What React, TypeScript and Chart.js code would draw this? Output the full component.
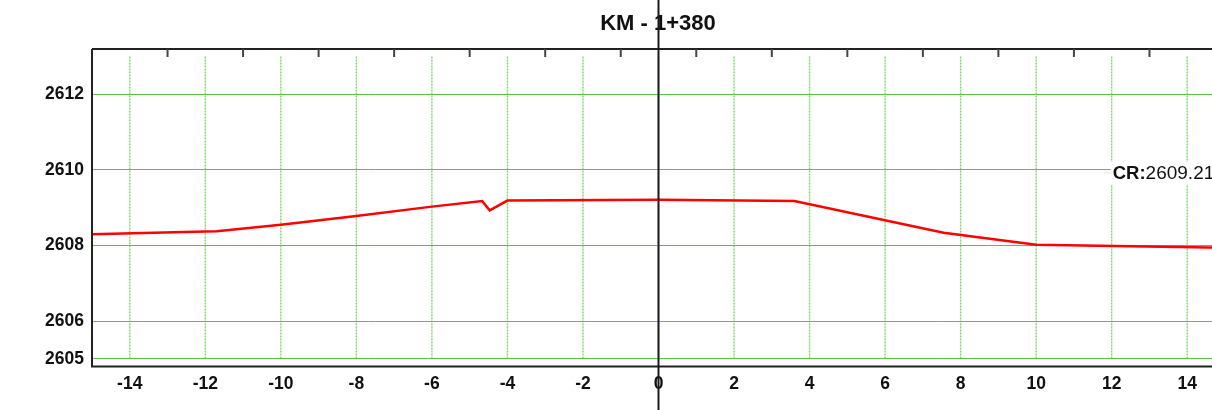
import { useEffect, useRef } from 'react';
import { Chart, registerables } from 'chart.js';

Chart.register(...registerables);

// ---- data ----
const TITLE = 'KM - 1+380';
const OFFSETS = [-15, -12, -11.7, -10, -8, -6, -4.67, -4.47, -4.0, 0, 3.6, 7.55, 10, 15];
const ELEVATIONS = [2608.3, 2608.37, 2608.38, 2608.55, 2608.78, 2609.03, 2609.18, 2608.93, 2609.19, 2609.21, 2609.18, 2608.34, 2608.02, 2607.94];
const X_TICKS = [-14, -12, -10, -8, -6, -4, -2, 0, 2, 4, 6, 8, 10, 12, 14];
const TOP_MINOR_TICKS = [-13, -11, -9, -7, -5, -3, -1, 1, 3, 5, 7, 9, 11, 13, 15];
const Y_TICKS = [2605, 2606, 2608, 2610, 2612];
const X_RANGE = [-15, 15];
const Y_RANGE = [2604.8, 2613.2];
const GRID_Y_SPAN = [2605, 2613];
const CR_NAME = 'CR:';
const CR_VALUE = '2609.21';
const CR_ANCHOR = [12, 2609.9];

const FONT = '"Liberation Sans", Arial, Helvetica, sans-serif';

const decorPlugin = {
  id: 'profileDecor',
  beforeDatasetsDraw(chart: any) {
    const { ctx, scales } = chart;
    const x = scales.x;
    const y = scales.y;
    const yt = y.getPixelForValue(GRID_Y_SPAN[1]);
    const yb = y.getPixelForValue(GRID_Y_SPAN[0]);
    ctx.save();
    ctx.strokeStyle = 'rgba(80,205,55,0.75)';
    ctx.lineWidth = 1.4;
    ctx.setLineDash([2, 1]);
    for (const v of X_TICKS) {
      const px = x.getPixelForValue(v);
      ctx.beginPath();
      ctx.moveTo(px, yt);
      ctx.lineTo(px, yb);
      ctx.stroke();
    }
    ctx.restore();
  },
  afterDatasetsDraw(chart: any) {
    const { ctx, chartArea, scales } = chart;
    const x = scales.x;
    const y = scales.y;
    ctx.save();
    // frame
    ctx.strokeStyle = '#222';
    ctx.lineWidth = 2;
    ctx.setLineDash([]);
    ctx.beginPath();
    ctx.moveTo(chartArea.left, chartArea.top);
    ctx.lineTo(chartArea.right, chartArea.top);
    ctx.moveTo(chartArea.left, chartArea.top);
    ctx.lineTo(chartArea.left, chartArea.bottom);
    ctx.lineTo(chartArea.right, chartArea.bottom);
    ctx.lineTo(chartArea.right, chartArea.top);
    ctx.stroke();
    // top minor ticks
    ctx.strokeStyle = '#444';
    ctx.lineWidth = 2;
    for (const v of TOP_MINOR_TICKS) {
      const px = x.getPixelForValue(v);
      ctx.beginPath();
      ctx.moveTo(px, chartArea.top);
      ctx.lineTo(px, chartArea.top + 8);
      ctx.stroke();
    }
    // CR label
    const lx = x.getPixelForValue(CR_ANCHOR[0]);
    const ly = y.getPixelForValue(CR_ANCHOR[1]);
    const boldFont = 'bold 18.5px ' + FONT;
    const normFont = '19px ' + FONT;
    ctx.font = boldFont;
    const w1 = ctx.measureText(CR_NAME).width;
    ctx.font = normFont;
    const w2 = ctx.measureText(CR_VALUE).width;
    ctx.fillStyle = '#fff';
    ctx.fillRect(lx - 1, ly - 12, w1 + w2 + 6, 23);
    ctx.fillStyle = '#111';
    ctx.textBaseline = 'middle';
    ctx.textAlign = 'left';
    ctx.font = boldFont;
    ctx.fillText(CR_NAME, lx + 1, ly);
    ctx.font = normFont;
    ctx.fillText(CR_VALUE, lx + 1 + w1, ly);
    // centre line
    const zx = x.getPixelForValue(0);
    ctx.strokeStyle = '#1a1a1a';
    ctx.lineWidth = 2;
    ctx.beginPath();
    ctx.moveTo(zx, 0);
    ctx.lineTo(zx, chart.height);
    ctx.stroke();
    ctx.restore();
  },
};

export default function App() {
  const ref = useRef<HTMLCanvasElement | null>(null);
  useEffect(() => {
    if (!ref.current) return;
    const chart = new Chart(ref.current, {
      type: 'line',
      data: {
        datasets: [
          {
            data: OFFSETS.map((o, i) => ({ x: o, y: ELEVATIONS[i] })),
            borderColor: '#ff0000',
            borderWidth: 2.5,
            pointRadius: 0,
            tension: 0,
            fill: false,
            yAxisID: 'y',
          },
        ],
      },
      options: {
        animation: false,
        responsive: false,
        maintainAspectRatio: false,
        devicePixelRatio: 1,
        layout: { padding: 0 },
        plugins: {
          legend: { display: false },
          tooltip: { enabled: false },
          title: {
            display: true,
            text: TITLE,
            color: '#111',
            font: { family: FONT, size: 22, weight: 'bold', lineHeight: 1.2 },
            padding: { top: 11, bottom: 11.6 },
          },
        },
        scales: {
          x: {
            type: 'linear',
            position: 'bottom',
            min: X_RANGE[0],
            max: X_RANGE[1],
            afterBuildTicks: (s: any) => {
              s.ticks = X_TICKS.map((v) => ({ value: v }));
            },
            afterFit: (s: any) => {
              s.height = 43.5;
            },
            grid: { display: false, drawTicks: false },
            border: { display: false },
            ticks: {
              color: '#111',
              padding: 7,
              maxRotation: 0,
              autoSkip: false,
              callback: (v: any) => String(v),
              font: { family: FONT, size: 17.5, weight: 'bold' },
            },
          },
          y: {
            type: 'linear',
            position: 'left',
            min: Y_RANGE[0],
            max: Y_RANGE[1],
            afterBuildTicks: (s: any) => {
              s.ticks = Y_TICKS.map((v) => ({ value: v }));
            },
            afterFit: (s: any) => {
              s.width = 92;
            },
            grid: { display: true, drawTicks: false, color: 'rgba(60,185,35,0.85)', lineWidth: 1 },
            border: { display: false },
            ticks: {
              color: '#111',
              padding: 8,
              autoSkip: false,
              callback: (v: any) => String(v),
              font: { family: FONT, size: 17.5, weight: 'bold' },
            },
          },
          yRight: {
            type: 'linear',
            position: 'right',
            min: Y_RANGE[0],
            max: Y_RANGE[1],
            afterFit: (s: any) => {
              s.width = 91;
            },
            grid: { display: false, drawTicks: false },
            border: { display: false },
            ticks: { display: false },
          },
        },
      },
      plugins: [decorPlugin],
    } as any);
    return () => chart.destroy();
  }, []);
  return (
    <div
      style={{
        position: 'fixed',
        left: 0,
        top: 0,
        width: 1212,
        height: 410,
        overflow: 'hidden',
        background: '#fff',
      }}
    >
      <canvas ref={ref} width={1316} height={410} style={{ display: 'block' }} />
    </div>
  );
}
